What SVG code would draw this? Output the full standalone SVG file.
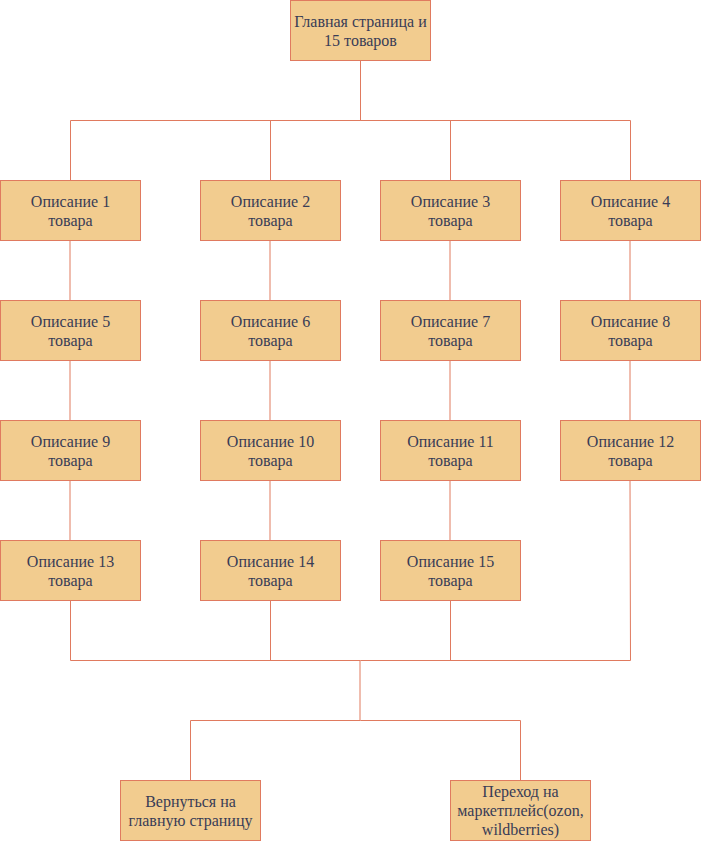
<svg xmlns="http://www.w3.org/2000/svg" width="701" height="841" viewBox="0 0 701 841">
<style>
.n{fill:#F2CC8F;stroke:#E07A5F;stroke-width:1}
.t{font-family:"Liberation Serif","Times New Roman",serif;font-size:16px;fill:#393C56;text-anchor:middle}
.e{fill:none;stroke:#E07A5F;stroke-width:1}
</style>
<rect width="701" height="841" fill="#ffffff"/>
<g id="connectors">
<path class="e" d="M360.5 60.5V120.5H70.5V180.5"/>
<path class="e" d="M360.5 120.5H270.5V180.5"/>
<path class="e" d="M360.5 120.5H450.5V180.5"/>
<path class="e" d="M360.5 120.5H630.5V180.5"/>
<path class="e" d="M70 240.5V300.5M270 240.5V300.5M450 240.5V300.5M630 240.5V300.5"/>
<path class="e" d="M70 360.5V420.5M270 360.5V420.5M450 360.5V420.5M630 360.5V420.5"/>
<path class="e" d="M70 480.5V540.5M270 480.5V540.5M450 480.5V540.5"/>
<path class="e" d="M70.5 600.5V660.5H360.5"/>
<path class="e" d="M270.5 600.5V660.5"/>
<path class="e" d="M450.5 600.5V660.5"/>
<path class="e" d="M630 480.5L630.5 660.5H360.5"/>
<path class="e" d="M360 660.5V720.5"/>
<path class="e" d="M360.5 720.5H190.5V780.5"/>
<path class="e" d="M360.5 720.5H520.5V780.5"/>
</g>
<g id="home"><rect class="n" x="290.5" y="0.5" width="140" height="60"/><text class="t" x="360.5" y="26.5">Главная страница и</text><text class="t" x="360.5" y="45.5">15 товаров</text></g>
<g id="d1"><rect class="n" x="0.5" y="180.5" width="140" height="60"/><text class="t" x="70.5" y="206.5">Описание 1</text><text class="t" x="70.5" y="225.5">товара</text></g>
<g id="d2"><rect class="n" x="200.5" y="180.5" width="140" height="60"/><text class="t" x="270.5" y="206.5">Описание 2</text><text class="t" x="270.5" y="225.5">товара</text></g>
<g id="d3"><rect class="n" x="380.5" y="180.5" width="140" height="60"/><text class="t" x="450.5" y="206.5">Описание 3</text><text class="t" x="450.5" y="225.5">товара</text></g>
<g id="d4"><rect class="n" x="560.5" y="180.5" width="140" height="60"/><text class="t" x="630.5" y="206.5">Описание 4</text><text class="t" x="630.5" y="225.5">товара</text></g>
<g id="d5"><rect class="n" x="0.5" y="300.5" width="140" height="60"/><text class="t" x="70.5" y="326.5">Описание 5</text><text class="t" x="70.5" y="345.5">товара</text></g>
<g id="d6"><rect class="n" x="200.5" y="300.5" width="140" height="60"/><text class="t" x="270.5" y="326.5">Описание 6</text><text class="t" x="270.5" y="345.5">товара</text></g>
<g id="d7"><rect class="n" x="380.5" y="300.5" width="140" height="60"/><text class="t" x="450.5" y="326.5">Описание 7</text><text class="t" x="450.5" y="345.5">товара</text></g>
<g id="d8"><rect class="n" x="560.5" y="300.5" width="140" height="60"/><text class="t" x="630.5" y="326.5">Описание 8</text><text class="t" x="630.5" y="345.5">товара</text></g>
<g id="d9"><rect class="n" x="0.5" y="420.5" width="140" height="60"/><text class="t" x="70.5" y="446.5">Описание 9</text><text class="t" x="70.5" y="465.5">товара</text></g>
<g id="d10"><rect class="n" x="200.5" y="420.5" width="140" height="60"/><text class="t" x="270.5" y="446.5">Описание 10</text><text class="t" x="270.5" y="465.5">товара</text></g>
<g id="d11"><rect class="n" x="380.5" y="420.5" width="140" height="60"/><text class="t" x="450.5" y="446.5">Описание 11</text><text class="t" x="450.5" y="465.5">товара</text></g>
<g id="d12"><rect class="n" x="560.5" y="420.5" width="140" height="60"/><text class="t" x="630.5" y="446.5">Описание 12</text><text class="t" x="630.5" y="465.5">товара</text></g>
<g id="d13"><rect class="n" x="0.5" y="540.5" width="140" height="60"/><text class="t" x="70.5" y="566.5">Описание 13</text><text class="t" x="70.5" y="585.5">товара</text></g>
<g id="d14"><rect class="n" x="200.5" y="540.5" width="140" height="60"/><text class="t" x="270.5" y="566.5">Описание 14</text><text class="t" x="270.5" y="585.5">товара</text></g>
<g id="d15"><rect class="n" x="380.5" y="540.5" width="140" height="60"/><text class="t" x="450.5" y="566.5">Описание 15</text><text class="t" x="450.5" y="585.5">товара</text></g>
<g id="back"><rect class="n" x="120.5" y="780.5" width="140" height="60"/><text class="t" x="190.5" y="806.5">Вернуться на</text><text class="t" x="190.5" y="825.5">главную страницу</text></g>
<g id="market"><rect class="n" x="450.5" y="780.5" width="140" height="60"/><text class="t" x="520.5" y="797">Переход на</text><text class="t" x="520.5" y="816">маркетплейс(ozon,</text><text class="t" x="520.5" y="835">wildberries)</text></g>
</svg>
